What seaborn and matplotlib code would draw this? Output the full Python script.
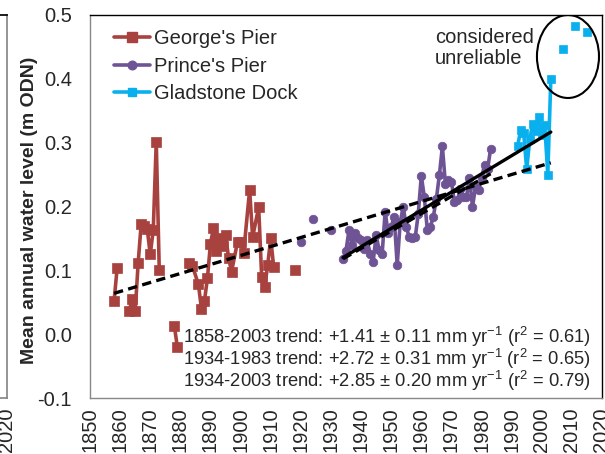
import numpy as np
import pandas as pd
import matplotlib
matplotlib.use("Agg")
import matplotlib.pyplot as plt
import seaborn as sns
from matplotlib.lines import Line2D
from matplotlib.patches import Ellipse

# ---------------- data ----------------
george_years = [1858, 1859,
                1863, 1864, 1865, 1866, 1867, 1868, 1869, 1870, 1871, 1872, 1873,
                1878, 1879,
                1883, 1884, 1886, 1887, 1888, 1889, 1890, 1891, 1892, 1893, 1894,
                1895, 1896, 1897, 1899, 1900, 1901, 1903, 1904, 1906, 1907, 1908,
                1909, 1910, 1911,
                1918]
george_levels = [0.052, 0.103,
                 0.036, 0.055, 0.036, 0.112, 0.173, 0.170, 0.165, 0.125, 0.163, 0.301, 0.100,
                 0.013, -0.020,
                 0.111, 0.107, 0.078, 0.040, 0.052, 0.088, 0.142, 0.166, 0.131, 0.150, 0.138,
                 0.156, 0.120, 0.098, 0.145, 0.145, 0.127, 0.226, 0.152, 0.199, 0.090, 0.074,
                 0.108, 0.150, 0.105,
                 0.101]

prince_years = [1920, 1924, 1930] + list(range(1934, 1984))
prince_levels = [0.145, 0.180, 0.163,
                 0.117, 0.131, 0.163, 0.140, 0.158, 0.150, 0.147, 0.133, 0.148, 0.126,
                 0.113, 0.155, 0.132, 0.126, 0.192, 0.158, 0.168, 0.184, 0.108, 0.175,
                 0.200, 0.168, 0.152, 0.150, 0.152, 0.189, 0.248, 0.215, 0.163, 0.168,
                 0.184, 0.212, 0.249, 0.294, 0.236, 0.241, 0.239, 0.207, 0.210, 0.228,
                 0.215, 0.215, 0.245, 0.200, 0.230, 0.226, 0.245, 0.265, 0.258, 0.290]

gladstone_years = [1992, 1993, 1994, 1995, 1996, 1997, 1998, 1999, 2000, 2001, 2002, 2003,
                   2007, 2011, 2015]
gladstone_levels = [0.295, 0.320, 0.315, 0.258, 0.305, 0.330, 0.318, 0.340, 0.312, 0.327,
                    0.250, 0.399,
                    0.447, 0.483, 0.473]

sites = ["George's Pier", "Prince's Pier", "Gladstone Dock"]

# trend lines: start year, end year, level at start (m), slope (mm/yr)
trend_start = [1858, 1934, 1934]
trend_end = [2003, 1983, 2003]
trend_level0 = [0.064, 0.118, 0.120]
trend_slope = [1.41, 2.72, 2.85]
trend_labels = [
    "1858-2003 trend: +1.41 ± 0.11 mm yr$^{-1}$ (r$^{2}$ = 0.61)",
    "1934-1983 trend: +2.72 ± 0.31 mm yr$^{-1}$ (r$^{2}$ = 0.65)",
    "1934-2003 trend: +2.85 ± 0.20 mm yr$^{-1}$ (r$^{2}$ = 0.79)",
]

x_ticks = list(range(1850, 2021, 10))
y_ticks = [-0.1, 0.0, 0.1, 0.2, 0.3, 0.4, 0.5]

# ---------------- style ----------------
sns.set_theme(style="white")
plt.rcParams["font.family"] = ["Liberation Sans", "DejaVu Sans"]
plt.rcParams["mathtext.fontset"] = "custom"
plt.rcParams["mathtext.rm"] = "Liberation Sans"
plt.rcParams["mathtext.it"] = "Liberation Sans"
plt.rcParams["mathtext.bf"] = "Liberation Sans:bold"

colors = {"George's Pier": "#A8423F", "Prince's Pier": "#6E5495", "Gladstone Dock": "#0AB0EE"}
markers = {"George's Pier": "s", "Prince's Pier": "o", "Gladstone Dock": "s"}
msizes = {"George's Pier": 6.8, "Prince's Pier": 6.2, "Gladstone Dock": 6.2}

FS = 14.5
W, H = 605, 454
fig = plt.figure(figsize=(W / 100, H / 100), dpi=100)

# fragment of neighbouring panel at far left
bottom = 1 - 398 / H
height = (398 - 15) / H
ax0 = fig.add_axes([(7 - 512) / W, bottom, 512 / W, height])
ax0.set_xlim(1850, 2020)
ax0.set_ylim(-0.1, 0.5)
ax0.set_xticks([2020])
ax0.set_xticklabels(["2020"], rotation=90, fontsize=FS)
ax0.set_yticks([])
ax0.tick_params(axis="x", direction="out", length=5, color="#888888", pad=2)
for s in ["left", "bottom", "right"]:
    ax0.spines[s].set_color("#888888")
ax0.spines["top"].set_color("black")

ax = fig.add_axes([90 / W, bottom, 512 / W, height])

site_data = {
    "George's Pier": (george_years, george_levels),
    "Prince's Pier": (prince_years, prince_levels),
    "Gladstone Dock": (gladstone_years, gladstone_levels),
}

for z, site in enumerate(sites):
    yrs, lv = site_data[site]
    df = pd.DataFrame({"year": yrs, "level": lv})
    df["segment"] = (df["year"].diff().fillna(0) > 3).cumsum()
    sns.lineplot(data=df, x="year", y="level", units="segment", estimator=None,
                 color=colors[site], marker=markers[site], markersize=msizes[site],
                 markeredgecolor=colors[site], markeredgewidth=0.5,
                 linewidth=2.6, ax=ax, legend=False, zorder=2 + z)

# trend lines
for i in range(3):
    x0, x1 = trend_start[i], trend_end[i]
    y0 = trend_level0[i]
    y1 = y0 + trend_slope[i] / 1000.0 * (x1 - x0)
    tdf = pd.DataFrame({"year": [x0, x1], "level": [y0, y1]})
    ls = "-" if i == 2 else (0, (2.8, 1.6))
    sns.lineplot(data=tdf, x="year", y="level", color="black", linewidth=2.4,
                 linestyle=ls, ax=ax, legend=False, zorder=10 - i)

# ellipse and annotation
ax.add_patch(Ellipse((2008.7, 0.435), 20.6, 0.130, fill=False, ec="black", lw=1.5, zorder=12))
ax.text(1964.6, 0.448, "considered\nunreliable", ha="left", va="center",
        fontsize=FS, linespacing=1.1, zorder=12)

for i, lab in enumerate(trend_labels):
    ax.text(2016.2, -0.004 - 0.0345 * i, lab, ha="right", va="center", fontsize=13.2, zorder=12)

# legend
handles = [Line2D([], [], color=colors[s], marker=markers[s], markersize=msizes[s],
                  markeredgecolor=colors[s], lw=2.6) for s in sites]
ax.legend(handles, sites, loc="upper left", bbox_to_anchor=(0.02, 1.0), frameon=False,
          fontsize=FS, handlelength=1.75, handletextpad=0.2, labelspacing=0.42,
          borderaxespad=0.3)

ax.set_xlim(1850, 2020)
ax.set_ylim(-0.1, 0.5)
ax.set_xticks(x_ticks)
ax.set_xticklabels([str(t) for t in x_ticks], rotation=90, fontsize=FS)
ax.set_yticks(y_ticks)
ax.set_yticklabels([f"{t:.1f}" for t in y_ticks], fontsize=FS)
ax.tick_params(axis="both", direction="out", length=5, color="#888888", pad=2)
ax.tick_params(axis="y", pad=8)
ax.set_xlabel("")
ax.set_ylabel("Mean annual water level (m ODN)", fontsize=14, fontweight="bold")
ax.yaxis.set_label_coords((38 - 90) / 512, 0.49)
for s in ["left", "bottom"]:
    ax.spines[s].set_color("#888888")
for s in ["top", "right"]:
    ax.spines[s].set_color("black")
for s in ax.spines.values():
    s.set_linewidth(1.0)

fig.savefig("out.png", dpi=100)
